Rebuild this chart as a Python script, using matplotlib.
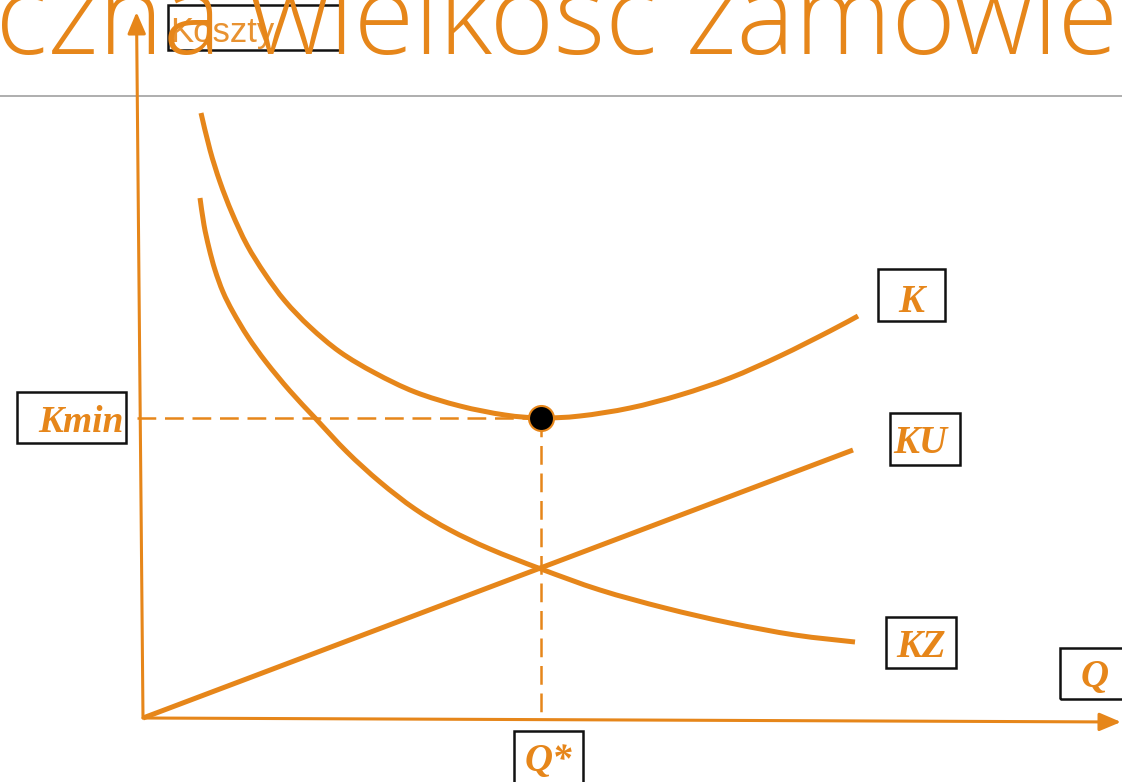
"""Ekonomiczna wielkość zamówienia - koszty vs wielkość dostawy."""

import numpy as np
import matplotlib.pyplot as plt
from matplotlib.patches import Rectangle, PathPatch
from matplotlib.path import Path

# --- dane (jednostki wykresu: Q w prawo, koszt w górę) ---
TITLE = "Ekonomiczna wielkość zamówienia"
TITLE_PREFIX = "Ekonomi"          # część tytułu poza lewą krawędzią slajdu
AXIS_Y_LABEL = "Koszty"

K_Q = [58, 67, 77, 89, 104, 122, 142, 167, 197, 232, 272, 317, 362, 398,
       437, 487, 537, 587, 637, 687, 715]
K_COST = [605, 568, 536, 505, 473, 444, 417, 391, 366, 345, 326, 312, 303, 300,
          302, 310, 323, 340, 362, 387, 402]

KZ_Q = [57, 61, 66, 72, 80, 90, 105, 123, 147, 173, 204, 237, 272, 307, 347,
        398, 457, 522, 587, 652, 712]
KZ_COST = [520, 493, 470, 448, 426, 406, 381, 356, 327, 299, 266, 236, 209, 188, 169,
           149, 128, 110, 95, 83, 76]

KU_Q = [0, 710]
KU_COST = [0, 268]

Q_OPT = 398
K_MIN = 300

LABELS = ["K", "KU", "KZ", "Kmin", "Q", "Q*"]


def smooth_line(ax, xs, ys, **kw):
    # gładka linia przez punkty (Catmull-Rom -> Bezier)
    p = np.column_stack([xs, ys]).astype(float)
    p = np.vstack([p[0], p, p[-1]])
    verts, codes = [p[1]], [Path.MOVETO]
    for i in range(1, len(p) - 2):
        c1 = p[i] + (p[i + 1] - p[i - 1]) / 6
        c2 = p[i + 1] - (p[i + 2] - p[i]) / 6
        verts += [c1, c2, p[i + 1]]
        codes += [Path.CURVE4] * 3
    ax.add_patch(PathPatch(Path(verts, codes), fill=False, capstyle="butt", **kw))


# --- styl ---
ORANGE = "#E6861A"
W, H = 1122, 782
fig = plt.figure(figsize=(W / 100, H / 100), dpi=100)
ax = fig.add_axes([0, 0, 1, 1])
ax.set_xlim(-143, W - 143)
ax.set_ylim(718 - H, 718)
ax.axis("off")

# tytuł slajdu (ucięty po bokach jak na slajdzie)
title_kw = dict(fontsize=79, family="Open Sans", weight="light", color=ORANGE)
renderer = fig.canvas.get_renderer()
probe = fig.text(0, 0, TITLE_PREFIX, **title_kw)
shift = probe.get_window_extent(renderer).width
probe.remove()
fig.text(-(shift + 4) / W, 1 - 54 / H, TITLE, va="baseline", ha="left", **title_kw)
ax.axhline(622, color="#999999", lw=1.1)

# osie ze strzałkami
arrow = dict(arrowstyle="-|>,head_length=1.3,head_width=0.55", color=ORANGE, lw=2.2,
             shrinkA=0, shrinkB=0)
ax.annotate("", xy=(-6.5, 706), xytext=(0, 0), arrowprops=arrow)
ax.annotate("", xy=(978, -4), xytext=(0, 0), arrowprops=arrow)

# linie pomocnicze
dash = (0, (7.5, 3.5))
ax.plot([-6, Q_OPT], [K_MIN, K_MIN], color=ORANGE, lw=1.8, ls=dash)
ax.plot([Q_OPT, Q_OPT], [K_MIN, 0], color=ORANGE, lw=1.8, ls=dash)

# krzywe kosztów
ax.plot(KU_Q, KU_COST, color=ORANGE, lw=3.6, solid_capstyle="butt")
smooth_line(ax, KZ_Q, KZ_COST, ec=ORANGE, lw=3.6)
smooth_line(ax, K_Q, K_COST, ec=ORANGE, lw=3.6)
ax.plot([Q_OPT], [K_MIN], "o", ms=18, mfc="black", mec=ORANGE, mew=1.5, zorder=5)

# ramki z opisami
boxes = {
    "Koszty": (25, 668, 173, 45),
    "Kmin": (-126, 275, 109, 51),
    "K": (735, 397, 67, 52),
    "KU": (747, 253, 70, 52),
    "KZ": (743, 50, 70, 51),
    "Q": (917, 19, 70, 51),
    "Q*": (371, -72, 69, 59),
}
for x0, y0, w, h in boxes.values():
    ax.add_patch(Rectangle((x0, y0), w, h, fill=False, ec="#111111", lw=1.8, zorder=6))

ax.text(27, 676, AXIS_Y_LABEL, family="Liberation Sans", fontsize=25,
        color=ORANGE, alpha=0.9, va="baseline", ha="left", zorder=7)

label_pos = {
    "K": (768, 406, 28),
    "KU": (777, 265, 28),
    "KZ": (778, 61, 28),
    "Kmin": (-62, 286, 27),
    "Q": (952, 31, 28),
    "Q*": (405, -53, 28),
}
for lab in LABELS:
    x, y, fs = label_pos[lab]
    ax.text(x, y, lab, family="Liberation Serif", weight="bold", style="italic",
            fontsize=fs, color=ORANGE, ha="center", va="baseline", zorder=7)

fig.savefig("out.png", dpi=100)
